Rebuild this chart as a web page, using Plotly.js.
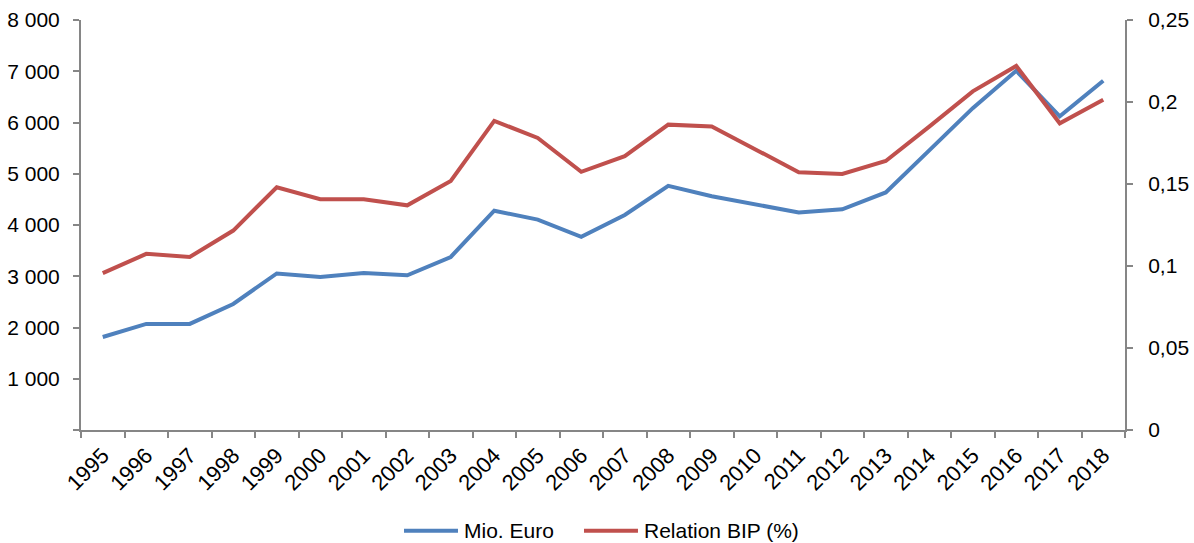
<!DOCTYPE html>
<html>
<head>
<meta charset="utf-8">
<script src="https://cdn.plot.ly/plotly-3.0.1.min.js"></script>
<style>html,body{margin:0;padding:0;background:#fff}#chart{width:1194px;height:543px}</style>
</head>
<body>
<div id="chart"></div>
<script>
const years = ["1995","1996","1997","1998","1999","2000","2001","2002","2003","2004","2005","2006","2007","2008","2009","2010","2011","2012","2013","2014","2015","2016","2017","2018"];
const mioEuro = [1815,2070,2070,2459,3055,2985,3063,3020,3376,4279,4105,3770,4195,4765,4560,4410,4245,4305,4635,5455,6280,7010,6120,6815];
const relationBIP = [0.0957,0.1074,0.1055,0.1216,0.148,0.1407,0.1407,0.137,0.1519,0.1885,0.1781,0.1574,0.167,0.1862,0.1851,0.1712,0.1572,0.1561,0.164,0.185,0.2065,0.222,0.187,0.2014];
const leftTickVals = [0,1000,2000,3000,4000,5000,6000,7000,8000];
const leftTickText = ["","1 000","2 000","3 000","4 000","5 000","6 000","7 000","8 000"];
const rightTickVals = [0,0.05,0.1,0.15,0.2,0.25];
const seriesNames = ["Mio. Euro","Relation BIP (%)"];
const seriesColors = ['#4F81BD', '#C0504D'];

const axisColor = '#868686';
const fontFam = 'Liberation Sans, Arial, sans-serif';
const fs = 21;

const data = [
  {x: years, y: mioEuro, name: seriesNames[0], type: 'scatter', mode: 'lines',
   line: {color: seriesColors[0], width: 4}, yaxis: 'y'},
  {x: years, y: relationBIP, name: seriesNames[1], type: 'scatter', mode: 'lines',
   line: {color: seriesColors[1], width: 4}, yaxis: 'y2'}
];

// custom legend (paper coordinates)
const legY = -0.2456;
const legItems = [
  {x0: 0.3094, x1: 0.3611, tx: 0.3649},
  {x0: 0.4818, x1: 0.5335, tx: 0.5374}
];
const shapes = legItems.map((it, i) => ({
  type: 'line', xref: 'paper', yref: 'paper', x0: it.x0, x1: it.x1, y0: legY, y1: legY,
  line: {color: seriesColors[i], width: 4}
}));
const annotations = legItems.map((it, i) => ({
  xref: 'paper', yref: 'paper', x: it.tx, y: legY, xanchor: 'left', yanchor: 'middle',
  text: seriesNames[i], showarrow: false, font: {family: fontFam, size: fs, color: '#000'}
}));

const layout = {
  width: 1194, height: 543,
  margin: {l: 81, r: 69, t: 20, b: 113},
  paper_bgcolor: '#fff', plot_bgcolor: '#fff',
  separators: ', ',
  font: {family: fontFam, size: fs, color: '#000'},
  showlegend: false,
  shapes: shapes,
  annotations: annotations,
  xaxis: {
    type: 'category', tickson: 'boundaries', showgrid: false, zeroline: false, automargin: false,
    showline: true, linecolor: axisColor, linewidth: 2,
    ticks: 'outside', ticklen: 6, tickwidth: 2, tickcolor: axisColor,
    tickangle: -45, tickfont: {family: fontFam, size: 22, color: '#000'}, ticklabelstandoff: 2,
    range: [-0.5, 23.5]
  },
  yaxis: {
    range: [0, 8000], tickmode: 'array', tickvals: leftTickVals, ticktext: leftTickText, automargin: false,
    showgrid: false, zeroline: false, showline: true, linecolor: axisColor, linewidth: 2,
    ticks: 'outside', ticklen: 6, tickwidth: 2, tickcolor: axisColor,
    tickfont: {family: fontFam, size: fs, color: '#000'}, ticklabelstandoff: 9
  },
  yaxis2: {
    range: [0, 0.25], overlaying: 'y', side: 'right', tickmode: 'array', tickvals: rightTickVals, automargin: false,
    showgrid: false, zeroline: false, showline: true, linecolor: axisColor, linewidth: 2,
    ticks: 'outside', ticklen: 6, tickwidth: 2, tickcolor: axisColor,
    tickfont: {family: fontFam, size: fs, color: '#000'}, ticklabelstandoff: 11
  }
};

Plotly.newPlot('chart', data, layout, {displayModeBar: false, staticPlot: true});
</script>
</body>
</html>
